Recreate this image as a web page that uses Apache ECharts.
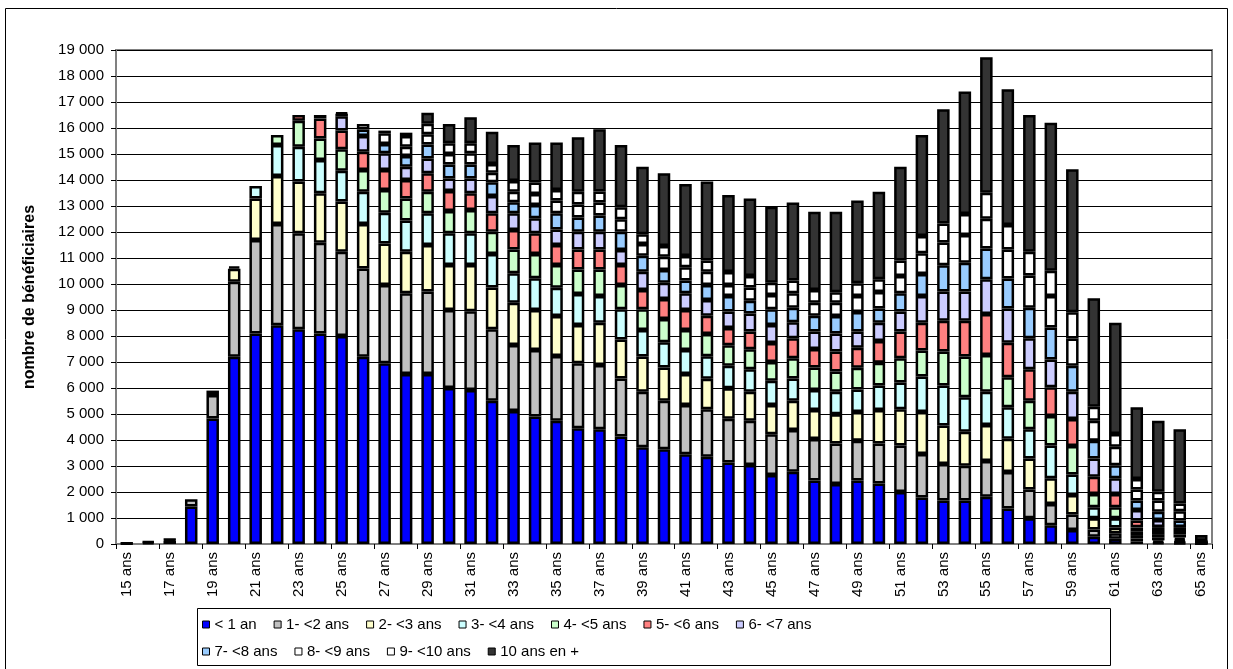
<!DOCTYPE html>
<html>
<head>
<meta charset="utf-8">
<script src="https://cdn.jsdelivr.net/npm/echarts@6/dist/echarts.min.js"></script>
<style>
  html, body { margin: 0; padding: 0; background: #fff; }
  #chart { width: 1233px; height: 669px; }
</style>
</head>
<body>
<div id="chart"></div>
<script>
// ages 15 ans .. 65 ans
var ages = [];
for (var a = 15; a <= 65; a++) ages.push(a + ' ans');

var seriesNames = ['< 1 an', '1- <2 ans', '2- <3 ans', '3- <4 ans', '4- <5 ans', '5- <6 ans',
  '6- <7 ans', '7- <8 ans', '8- <9 ans', '9- <10 ans', '10 ans en +'];
var seriesColors = ['#0000FF', '#C0C0C0', '#FFFFCC', '#CCFFFF', '#CCFFCC', '#FF8080',
  '#CCCCFF', '#99CCFF', '#FFFFFF', '#FFFFFF', '#333333'];

var lt1 = [20,60,120,1440,4830,7200,8100,8410,8260,8100,8000,7200,6950,6540,6540,6000,5920,5510,5120,4900,4740,4450,4410,4130,3720,3640,3450,3360,3130,3040,2650,2780,2440,2310,2440,2330,2000,1790,1670,1670,1820,1370,990,720,540,280,200,100,60,40,10];
var y1to2 = [10,40,50,280,900,2890,3590,3900,3690,3490,3240,3400,3010,3100,3170,3000,3030,2750,2530,2560,2490,2500,2470,2240,2140,1870,1900,1820,1690,1700,1570,1600,1600,1560,1530,1540,1790,1670,1410,1340,1370,1400,1110,820,590,280,210,110,80,50,10];
var y2to3 = [0,0,10,0,170,500,1600,1840,1990,1900,1930,1710,1600,1600,1790,1730,1780,1610,1630,1540,1540,1470,1630,1500,1350,1280,1190,1180,1170,1120,1130,1130,1110,1120,1110,1280,1390,1620,1480,1310,1390,1280,1190,990,750,430,220,100,100,70,10];
var y3to4 = [0,0,0,0,0,80,480,1200,1340,1280,1190,1240,1180,1200,1220,1220,1220,1280,1130,1220,1090,1200,1030,1160,1020,970,920,860,870,860,930,860,770,870,860,950,1030,1360,1540,1320,1280,1210,1120,1260,790,420,360,160,110,90,10];
var y4to5 = [0,0,0,0,0,0,0,380,1000,830,820,830,880,850,830,860,900,860,920,930,870,940,1020,930,800,890,770,860,780,770,720,770,870,770,840,870,930,1000,1300,1570,1410,1150,1100,1130,1100,510,420,170,150,110,10];
var y5to6 = [0,0,0,0,0,0,0,0,220,770,720,710,760,710,710,770,640,710,750,800,770,770,770,770,740,770,770,700,670,680,730,770,710,770,770,840,1030,1070,1190,1380,1580,1330,1210,1110,1040,670,510,260,150,140,10];
var y6to7 = [0,0,0,0,0,0,0,0,0,130,550,600,650,510,570,480,570,660,640,580,600,680,680,580,700,630,640,600,630,700,690,620,670,700,620,700,770,1030,1120,1120,1330,1320,1190,1070,1050,700,610,410,270,150,10];
var y7to8 = [0,0,0,0,0,0,0,0,0,0,100,250,350,410,540,540,540,530,420,510,620,550,620,700,620,490,490,580,600,490,610,560,610,670,750,550,700,840,1010,1110,1190,1150,1180,1230,1000,680,500,360,320,250,10];
var y8to9 = [0,0,0,0,0,0,0,0,0,0,40,210,420,360,390,400,430,370,410,420,490,500,500,480,450,510,510,510,420,510,550,550,500,510,620,630,670,800,880,1060,1140,1120,1240,1210,1040,770,710,430,430,360,20];
var y9to10 = [0,0,0,0,0,0,0,0,0,0,0,0,100,410,400,410,380,340,410,440,410,490,430,460,370,410,440,430,500,440,470,490,490,400,490,490,590,670,730,810,1000,940,910,970,1010,540,490,400,340,300,20];
var y10plus = [0,0,0,0,0,0,0,0,0,0,0,0,0,130,430,740,1000,1240,1390,1540,1820,2090,2390,2400,2600,2800,2770,3040,2960,2980,2920,3000,3010,3100,3180,3370,3610,3880,4390,4710,5210,5220,5260,5690,5500,4170,4280,2760,2730,2850,230];

var seriesData = [lt1, y1to2, y2to3, y3to4, y4to5, y5to6, y6to7, y7to8, y8to9, y9to10, y10plus];

var font = "'Liberation Sans', Arial, sans-serif";

function fmt(v) {
  if (v < 1000) return String(v);
  var r = String(v % 1000);
  while (r.length < 3) r = '0' + r;
  return Math.floor(v / 1000) + ' ' + r;
}

var series = seriesNames.map(function (name, i) {
  return {
    name: name,
    type: 'bar',
    stack: 'total',
    barWidth: 12.5,
    data: seriesData[i].map(function (v) { return v || '-'; }),
    itemStyle: { color: seriesColors[i], borderColor: '#000', borderWidth: 2.5 },
    emphasis: { disabled: true },
    animation: false
  };
});

var legendBase = {
  orient: 'horizontal',
  icon: 'rect',
  itemWidth: 7,
  itemHeight: 7,
  itemGap: 17,
  padding: 0,
  itemStyle: { borderColor: '#000', borderWidth: 1 },
  textStyle: { fontFamily: font, fontSize: 15, color: '#000', width: 105 }
};

var chart = echarts.init(document.getElementById('chart'));
chart.setOption({
  backgroundColor: '#fff',
  animation: false,
  textStyle: { fontFamily: font },
  grid: {
    left: 116, right: 21, top: 50, bottom: 125,
    show: true, borderColor: '#808080', borderWidth: 2
  },
  legend: [
    Object.assign({}, legendBase, { left: 202, top: 617, data: seriesNames.slice(0, 7) }),
    Object.assign({}, legendBase, { left: 202, top: 644, data: seriesNames.slice(7) })
  ],
  xAxis: {
    type: 'category',
    data: ages,
    axisLine: { lineStyle: { color: '#808080', width: 2 } },
    axisTick: { show: true, length: 5, lineStyle: { color: '#000' } },
    axisLabel: {
      interval: 1, rotate: 90, margin: 8,
      fontFamily: font, fontSize: 15, color: '#000'
    }
  },
  yAxis: {
    type: 'value',
    min: 0, max: 19000, interval: 1000,
    name: 'nombre de bénéficiaires',
    nameLocation: 'middle',
    nameGap: 78,
    nameTextStyle: { fontFamily: font, fontSize: 16, fontWeight: 'bold', color: '#000' },
    axisLine: { show: true, lineStyle: { color: '#808080', width: 2 } },
    axisTick: { show: true, length: 5, lineStyle: { color: '#000' } },
    axisLabel: { formatter: fmt, margin: 12, fontFamily: font, fontSize: 15, color: '#000' },
    splitLine: { lineStyle: { color: '#000', width: 1 } }
  },
  graphic: [
    { type: 'rect', shape: { x: 5.5, y: 8.5, width: 1222, height: 680 },
      style: { fill: 'none', stroke: '#000', lineWidth: 1 }, silent: true },
    { type: 'rect', shape: { x: 197.5, y: 608.5, width: 913, height: 57 },
      style: { fill: 'none', stroke: '#000', lineWidth: 1 }, silent: true }
  ],
  series: series
});
</script>
</body>
</html>
